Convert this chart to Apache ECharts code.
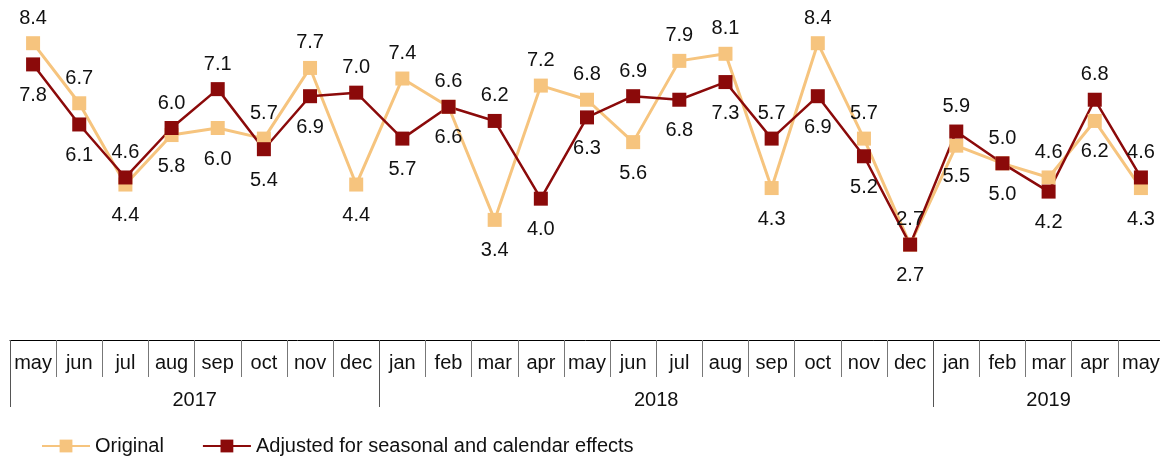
<!DOCTYPE html>
<html>
<head>
<meta charset="utf-8">
<script src="https://cdn.jsdelivr.net/npm/echarts@6/dist/echarts.min.js"></script>
<style>
  html, body { margin: 0; padding: 0; background: #fff; }
  #chart { width: 1160px; height: 457px; }
</style>
</head>
<body>
<div id="chart"></div>
<script>
  // months may 2017 .. may 2019
  const months = ['may', 'jun', 'jul', 'aug', 'sep', 'oct', 'nov', 'dec',
    'jan', 'feb', 'mar', 'apr', 'may', 'jun', 'jul', 'aug', 'sep', 'oct', 'nov', 'dec',
    'jan', 'feb', 'mar', 'apr', 'may'];
  const years = ['2017', '2018', '2019'];
  const yearMonths = [8, 12, 5];

  const original = [8.4, 6.7, 4.4, 5.8, 6.0, 5.7, 7.7, 4.4,
    7.4, 6.6, 3.4, 7.2, 6.8, 5.6, 7.9, 8.1, 4.3, 8.4, 5.7, 2.7,
    5.5, 5.0, 4.6, 6.2, 4.3];
  const adjusted = [7.8, 6.1, 4.6, 6.0, 7.1, 5.4, 6.9, 7.0,
    5.7, 6.6, 6.2, 4.0, 6.3, 6.9, 6.8, 7.3, 5.7, 6.9, 5.2, 2.7,
    5.9, 5.0, 4.2, 6.8, 4.6];

  const FONT = 'Liberation Sans, Arial, sans-serif';
  const ORANGE = '#F6C47E';
  const RED = '#8B0A0A';

  // year boundaries and centres on a 0..25 scale
  let yearEdges = [0];
  let yearCenters = [];
  yearMonths.forEach(function (n) {
    let start = yearEdges[yearEdges.length - 1];
    yearCenters.push(start + n / 2);
    yearEdges.push(start + n);
  });

  // higher value gets its label above, the other one below
  function withLabels(values, other, isOriginal) {
    return values.map(function (v, i) {
      let above = isOriginal ? v >= other[i] : v > other[i];
      return {
        value: v,
        label: { position: above ? 'top' : 'bottom', distance: above ? 8 : 14 }
      };
    });
  }

  const chart = echarts.init(document.getElementById('chart'));
  chart.setOption({
    animation: false,
    textStyle: { fontFamily: FONT },
    grid: { left: 10, width: 1154, top: 22, bottom: 117, outerBoundsMode: 'none' },
    legend: {
      left: 36,
      top: 431,
      itemWidth: 48,
      itemHeight: 16,
      itemGap: 38,
      textStyle: { fontFamily: FONT, fontSize: 20, color: '#111' },
      data: ['Original', 'Adjusted for seasonal and calendar effects']
    },
    xAxis: [
      {
        type: 'category',
        data: months,
        position: 'bottom',
        axisLine: { show: true, lineStyle: { color: '#000', width: 1 } },
        axisTick: { show: true, interval: 0, length: 37, lineStyle: { color: '#777', width: 1 } },
        axisLabel: { interval: 0, margin: 13, fontSize: 20, color: '#111', fontFamily: FONT }
      },
      {
        type: 'value',
        min: 0,
        max: months.length,
        position: 'bottom',
        axisLine: { show: false },
        splitLine: { show: false },
        axisTick: { show: true, customValues: yearEdges, length: 67, lineStyle: { color: '#555' } },
        axisLabel: {
          customValues: yearCenters,
          margin: 50,
          fontSize: 20,
          color: '#111',
          fontFamily: FONT,
          formatter: function (v) {
            let i = yearCenters.indexOf(v);
            return i >= 0 ? years[i] : '';
          }
        }
      }
    ],
    yAxis: { type: 'value', min: 0, max: 9, show: false, splitLine: { show: false } },
    series: [
      {
        name: 'Original',
        type: 'line',
        data: withLabels(original, adjusted, true),
        symbol: 'rect',
        symbolSize: 14,
        lineStyle: { color: ORANGE, width: 3 },
        itemStyle: { color: ORANGE },
        label: {
          show: true, fontSize: 20, color: '#111', fontFamily: FONT,
          formatter: function (p) { return p.value.toFixed(1); }
        }
      },
      {
        name: 'Adjusted for seasonal and calendar effects',
        type: 'line',
        data: withLabels(adjusted, original, false),
        symbol: 'rect',
        symbolSize: 14,
        lineStyle: { color: RED, width: 2.5 },
        itemStyle: { color: RED },
        label: {
          show: true, fontSize: 20, color: '#111', fontFamily: FONT,
          formatter: function (p) { return p.value.toFixed(1); }
        }
      }
    ]
  });
</script>
</body>
</html>
